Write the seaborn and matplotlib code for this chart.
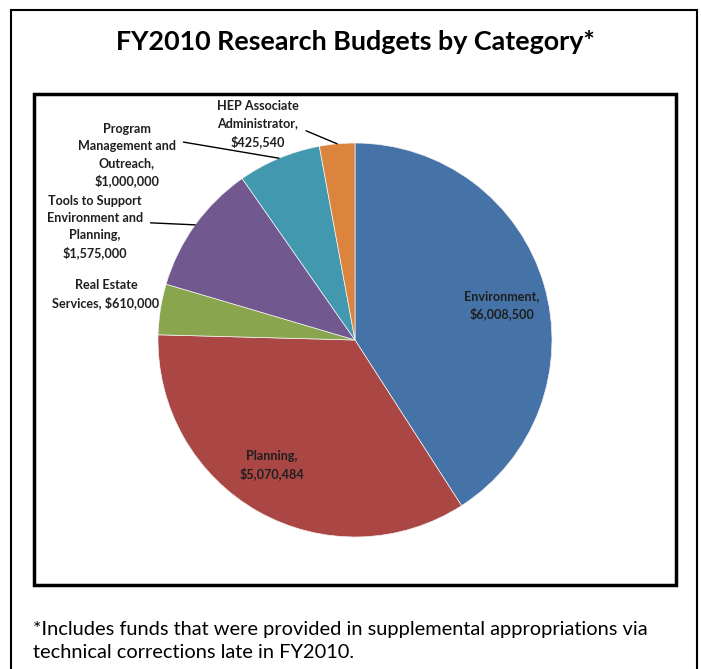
import numpy as np
import matplotlib
matplotlib.use("Agg")
import matplotlib.pyplot as plt
import matplotlib.patches as mpatches
import seaborn as sns

categories = ["Environment", "Planning", "Real Estate Services",
              "Tools to Support Environment and Planning",
              "Program Management and Outreach", "HEP Associate Administrator"]
values = [6008500, 5070484, 610000, 1575000, 1000000, 425540]
label_texts = ["Environment,\n$6,008,500", "Planning,\n$5,070,484",
               "Real Estate\nServices, $610,000",
               "Tools to Support\nEnvironment and\nPlanning,\n$1,575,000",
               "Program\nManagement and\nOutreach,\n$1,000,000",
               "HEP Associate\nAdministrator,\n$425,540"]
colors = ["#4572A7", "#AA4643", "#89A54E", "#71588F", "#4198AF", "#DB843D"]
title = "FY2010 Research Budgets by Category*"
footnote = ("*Includes funds that were provided in supplemental appropriations via\n"
            "technical corrections late in FY2010.")

sns.set_theme(style="white")
plt.rcParams['font.family'] = ['Lato', 'DejaVu Sans']

W, H = 701, 669
fig = plt.figure(figsize=(W / 100, H / 100), dpi=100)
fig.patch.set_facecolor("white")

def fx(x):
    return x / W

def fy(y):
    return 1 - y / H

# outer frame
fig.add_artist(mpatches.Rectangle((fx(11), fy(700)), fx(697) - fx(11), fy(10) - fy(700),
                                  transform=fig.transFigure, fill=False,
                                  edgecolor="black", linewidth=1.5))

# inner chart box
bx0, bx1, by0, by1 = 34, 676, 94, 585
cx, cy, R = 355, 340, 197
ax = fig.add_axes([fx(bx0), fy(by1), fx(bx1) - fx(bx0), fy(by0) - fy(by1)])
wedges, _ = ax.pie(values, colors=colors, startangle=90, counterclock=False,
                   wedgeprops=dict(edgecolor="#f4f4f4", linewidth=0.5))
ax.set_aspect("auto")
ax.set_xlim((bx0 - cx) / R, (bx1 - cx) / R)
ax.set_ylim((cy - by1) / R, (cy - by0) / R)
ax.set_axis_off()
fig.add_artist(mpatches.Rectangle((fx(bx0), fy(by1)), fx(bx1) - fx(bx0), fy(by0) - fy(by1),
                                  transform=fig.transFigure, fill=False,
                                  edgecolor="black", linewidth=2.5))

fs = 9.1
ls = 1.5
tc = "#1f1f1f"
# inside labels
inside_pos = {0: (502, 305), 1: (272, 465)}
for i, (px, py) in inside_pos.items():
    fig.text(fx(px), fy(py), label_texts[i], ha="center", va="center",
             fontsize=fs, fontweight="bold", color=tc, linespacing=ls)

# outside labels: (text center x, center y, relpos)
outside = {2: (106, 294, None), 3: (95, 227, (1.0, 0.57)),
           4: (127, 155, (1.0, 0.72)), 5: (258, 124, (1.0, 0.42))}
for i, (px, py, rel) in outside.items():
    w = wedges[i]
    ang = np.deg2rad((w.theta1 + w.theta2) / 2)
    if rel is None:
        fig.text(fx(px), fy(py), label_texts[i], ha="center", va="center",
                 fontsize=fs, fontweight="bold", color=tc, linespacing=ls)
    else:
        ax.annotate(label_texts[i], xy=(np.cos(ang), np.sin(ang)), xycoords="data",
                    xytext=(fx(px), fy(py)), textcoords="figure fraction",
                    ha="center", va="center", fontsize=fs, fontweight="bold",
                    color=tc, linespacing=ls,
                    arrowprops=dict(arrowstyle="-", color="black", lw=1.0,
                                    relpos=rel, shrinkA=3, shrinkB=0))

fig.text(fx(355), fy(42), title, ha="center", va="center", fontsize=19.4,
         fontweight="bold", color="black")
fig.text(fx(33), fy(641), footnote, ha="left", va="center", fontsize=14.4,
         color="black", linespacing=1.45)

fig.savefig("out.png", dpi=100, facecolor="white")
